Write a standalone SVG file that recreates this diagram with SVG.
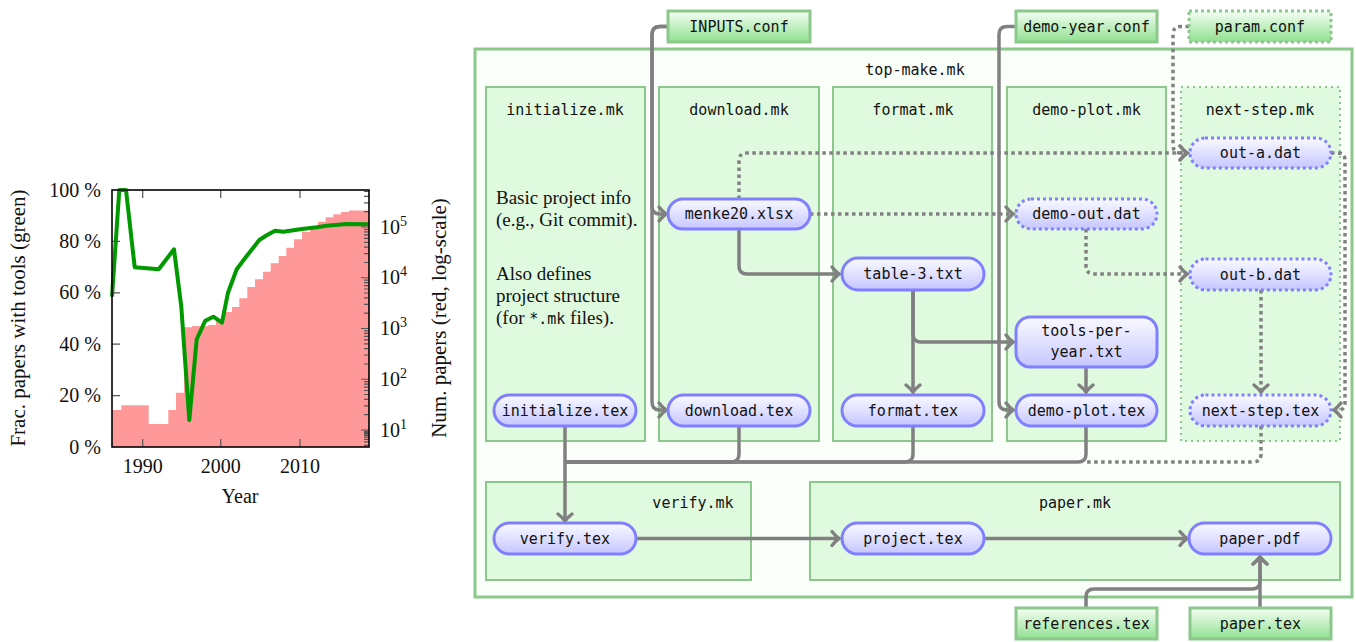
<svg xmlns="http://www.w3.org/2000/svg" width="1356" height="642" viewBox="0 0 1356 642">
<style>
.serif{font-family:"Liberation Serif","Times New Roman",serif;fill:#111}
.mono{font-family:"DejaVu Sans Mono","Liberation Mono",monospace;font-size:15px;fill:#111;text-anchor:middle}
.top{fill:#fafffa;stroke:#8cc88c;stroke-width:3}
.mk{fill:#e0fae0;stroke:#8cc88c;stroke-width:2}
.mkd{fill:#e0fae0;stroke:#8cc88c;stroke-width:2;stroke-dasharray:2 4}
.node{fill:url(#gb);stroke:#8080ff;stroke-width:3}
.noded{fill:url(#gb);stroke:#8080ff;stroke-width:3;stroke-dasharray:3 3}
.inp{fill:url(#gg);stroke:#8cc88c;stroke-width:3}
.inpd{fill:url(#gg);stroke:#8cc88c;stroke-width:3;stroke-dasharray:3 3}
.c{fill:none;stroke:#808080;stroke-width:3.5;marker-end:url(#ar)}
.cn{fill:none;stroke:#808080;stroke-width:3.5}
.d{stroke-dasharray:3.5 3.5}
.tk{stroke:#555;stroke-width:1.2}
</style>
<defs>
<linearGradient id="gb" x1="0" y1="0" x2="0" y2="1"><stop offset="0" stop-color="#fafaff"/><stop offset="1" stop-color="#c6c6ff"/></linearGradient>
<linearGradient id="gg" x1="0" y1="0" x2="0" y2="1"><stop offset="0" stop-color="#f6fff6"/><stop offset="1" stop-color="#8fe08f"/></linearGradient>
<marker id="ar" viewBox="-10 -10 12 20" refX="0" refY="0" markerWidth="12" markerHeight="20" markerUnits="userSpaceOnUse" orient="auto" overflow="visible"><path d="M-7,-7 Q-3,-2 0,0 Q-3,2 -7,7" fill="none" stroke="#808080" stroke-width="3.5" stroke-linecap="round"/></marker>
</defs>
<rect width="1356" height="642" fill="#fff"/>

<g id="plot">
<polygon fill="#ff9999" points="112,447 112,410 121.3,410 121.3,405.3 148.7,405.3 148.7,424 168.3,424 168.3,410 176,410 176,392.7 184,392.7 184,327.3 192,327.3 192,326 208,326 208,325 216,325 216,320 224,320 224,312 232,312 232,307 239.3,307 239.3,298.3 247.3,298.3 247.3,287 255,287 255,279.3 263,279.3 263,271.7 270.7,271.7 270.7,263.3 278.7,263.3 278.7,256 286.3,256 286.3,247.7 294,247.7 294,239.3 302,239.3 302,232 310,232 310,227 318,227 318,221.7 325.7,221.7 325.7,217.3 333.3,217.3 333.3,214.3 341,214.3 341,212 349,212 349,210.5 369,210.5 369,447"/>
<polyline fill="none" stroke="#009900" stroke-width="4" stroke-linejoin="round" points="112,296.7 119.3,190 126,190 134.7,267.3 158.7,269.3 174,249.3 181.3,306.7 189.3,420 196.7,339.3 205.3,320.7 213.3,316.7 222,322.7 228,292.7 236.7,269.3 246.7,256 259.3,240 266.7,235.3 275,230.7 283.3,231.7 300,229.3 316.7,227.3 326.7,225.7 346.7,224 369,224.3"/>
<g class="tk">
<path d="M112,395.6h8M112,344.2h8M112,292.8h8M112,241.4h8"/>
<path d="M142.7,447v-8M220.7,447v-8M300,447v-8M142.7,190v8M220.7,190v8M300,190v8"/>
<path d="M369,430h-8M369,379.25h-8M369,328.5h-8M369,277.75h-8M369,227h-8"/>
<path d="M369,445.3h-5M369,441.9h-5M369,439.3h-5M369,437.2h-5M369,435.4h-5M369,433.9h-5M369,432.6h-5M369,431.3h-5
M369,414.7h-5M369,405.8h-5M369,399.4h-5M369,394.5h-5M369,390.5h-5M369,387.1h-5M369,384.2h-5M369,381.6h-5
M369,364h-5M369,355h-5M369,348.7h-5M369,343.8h-5M369,339.8h-5M369,336.4h-5M369,333.4h-5M369,330.8h-5
M369,313.2h-5M369,304.3h-5M369,297.9h-5M369,293h-5M369,289h-5M369,285.6h-5M369,282.7h-5M369,280.1h-5
M369,262.5h-5M369,253.6h-5M369,247.2h-5M369,242.3h-5M369,238.3h-5M369,234.9h-5M369,231.9h-5M369,229.3h-5
M369,211.7h-5M369,202.8h-5M369,196.4h-5M369,191.5h-5"/>
</g>
<rect x="112" y="190" width="257" height="257" fill="none" stroke="#000" stroke-width="1.6"/>
<g class="serif" font-size="20" text-anchor="end">
<text x="101" y="453.5">0 %</text>
<text x="101" y="402.1">20 %</text>
<text x="101" y="350.7">40 %</text>
<text x="101" y="299.3">60 %</text>
<text x="101" y="247.9">80 %</text>
<text x="101" y="196.5">100 %</text>
</g>
<g class="serif" font-size="20" text-anchor="middle">
<text x="142.7" y="473">1990</text>
<text x="220.7" y="473">2000</text>
<text x="300" y="473">2010</text>
<text x="240" y="503">Year</text>
</g>
<g class="serif" font-size="20">
<text x="380" y="436.5">10<tspan font-size="14" dy="-8">1</tspan></text>
<text x="380" y="385.75">10<tspan font-size="14" dy="-8">2</tspan></text>
<text x="380" y="335">10<tspan font-size="14" dy="-8">3</tspan></text>
<text x="380" y="284.25">10<tspan font-size="14" dy="-8">4</tspan></text>
<text x="380" y="233.5">10<tspan font-size="14" dy="-8">5</tspan></text>
</g>
<text class="serif" font-size="21" text-anchor="middle" x="25" y="318" transform="rotate(-90 25 318)">Frac. papers with tools (green)</text>
<text class="serif" font-size="21" text-anchor="middle" x="446" y="318" transform="rotate(-90 446 318)">Num. papers (red, log-scale)</text>
</g>

<g id="top-make">
<rect class="top" x="475" y="49" width="877" height="548"/>
<text class="mono" x="915" y="75">top-make.mk</text>
</g>
<g id="initialize-mk">
<rect class="mk" x="486" y="87" width="159" height="354"/>
<text class="mono" x="565" y="115">initialize.mk</text>
<g class="serif" font-size="19">
<text x="496" y="204">Basic project info</text>
<text x="496" y="226">(e.g., Git commit).</text>
<text x="496" y="280">Also defines</text>
<text x="496" y="302">project structure</text>
<text x="496" y="324">(for <tspan font-family="DejaVu Sans Mono, monospace" font-size="15">*.mk</tspan> files).</text>
</g>
</g>
<g id="download-mk">
<rect class="mk" x="659" y="87" width="160" height="354"/>
<text class="mono" x="739" y="115">download.mk</text>
</g>
<g id="format-mk">
<rect class="mk" x="833" y="87" width="159" height="354"/>
<text class="mono" x="913" y="115">format.mk</text>
</g>
<g id="demo-plot-mk">
<rect class="mk" x="1007" y="87" width="159" height="354"/>
<text class="mono" x="1086.5" y="115">demo-plot.mk</text>
</g>
<g id="next-step-mk">
<rect class="mkd" x="1181" y="87" width="159" height="354"/>
<text class="mono" x="1260" y="115">next-step.mk</text>
</g>
<g id="verify-mk">
<rect class="mk" x="486" y="482" width="265" height="98"/>
<text class="mono" x="693" y="508">verify.mk</text>
</g>
<g id="paper-mk">
<rect class="mk" x="810" y="482" width="530" height="98"/>
<text class="mono" x="1075" y="508">paper.mk</text>
</g>

<g id="connectors">
<path class="c" d="M668,26.5H660Q652,26.5 652,34.5V206Q652,214 660,214H666"/>
<path class="c" d="M668,26.5H660Q652,26.5 652,34.5V402Q652,410 660,410H666"/>
<path class="c" d="M1016,26.5H1007Q999,26.5 999,34.5V402Q999,410 1007,410H1013"/>
<path class="c" d="M739,229V266Q739,274 747,274H839"/>
<path class="c d" d="M810,214H1013"/>
<path class="c d" d="M739,199V161Q739,153 747,153H1187"/>
<path class="c d" d="M1189,26.5H1181Q1173,26.5 1173,34.5V145Q1173,153 1181,153H1187"/>
<path class="c d" d="M1331,153H1338Q1345,153 1345,160V403Q1345,410 1338,410H1334"/>
<path class="c d" d="M1086,229V266Q1086,274 1094,274H1187"/>
<path class="c d" d="M1261,290V392"/>
<path class="c" d="M913,290V392"/>
<path class="c" d="M913,290V334Q913,342 921,342H1013"/>
<path class="c" d="M1086,367V392"/>
<path class="c" d="M565,426V521"/>
<path class="cn" d="M739,426V454Q739,462 731,462H565"/>
<path class="cn" d="M913,426V454Q913,462 905,462H565"/>
<path class="cn" d="M1086,426V454Q1086,462 1078,462H565"/>
<path class="cn d" d="M1261,426V454Q1261,462 1253,462H1086"/>
<path class="c" d="M636,538.5H839"/>
<path class="c" d="M984,538.5H1187"/>
<path class="c" d="M1260,608V557"/>
<path class="c" d="M1086,608V597Q1086,589 1094,589H1252Q1260,589 1260,581V557"/>
</g>

<g id="INPUTS-conf"><rect class="inp" x="668" y="11" width="142" height="31"/><text class="mono" x="739" y="31.5">INPUTS.conf</text></g>
<g id="demo-year-conf"><rect class="inp" x="1016" y="11" width="141" height="31"/><text class="mono" x="1086.5" y="31.5">demo-year.conf</text></g>
<g id="param-conf"><rect class="inpd" x="1189" y="11" width="142" height="31"/><text class="mono" x="1260" y="31.5">param.conf</text></g>
<g id="references-tex"><rect class="inp" x="1016" y="608" width="141" height="31"/><text class="mono" x="1086.5" y="628.5">references.tex</text></g>
<g id="paper-tex"><rect class="inp" x="1190" y="608" width="141" height="31"/><text class="mono" x="1260.5" y="628.5">paper.tex</text></g>

<g id="menke20-xlsx"><rect class="node" x="668" y="199" width="142" height="30" rx="15"/><text class="mono" x="739" y="219">menke20.xlsx</text></g>
<g id="table-3-txt"><rect class="node" x="842" y="258" width="142" height="32" rx="16"/><text class="mono" x="913" y="279">table-3.txt</text></g>
<g id="demo-out-dat"><rect class="noded" x="1016" y="199" width="141" height="30" rx="15"/><text class="mono" x="1086.5" y="219">demo-out.dat</text></g>
<g id="out-a-dat"><rect class="noded" x="1190" y="138" width="141" height="30" rx="15"/><text class="mono" x="1260.5" y="158">out-a.dat</text></g>
<g id="out-b-dat"><rect class="noded" x="1190" y="259" width="141" height="31" rx="15.5"/><text class="mono" x="1260.5" y="279.5">out-b.dat</text></g>
<g id="tools-per-year-txt"><rect class="node" x="1016" y="317" width="141" height="50" rx="14"/><text class="mono" x="1086.5" y="336">tools-per-</text><text class="mono" x="1086.5" y="357">year.txt</text></g>
<g id="initialize-tex"><rect class="node" x="494" y="395" width="142" height="31" rx="15.5"/><text class="mono" x="565" y="415.5">initialize.tex</text></g>
<g id="download-tex"><rect class="node" x="668" y="395" width="142" height="31" rx="15.5"/><text class="mono" x="739" y="415.5">download.tex</text></g>
<g id="format-tex"><rect class="node" x="842" y="395" width="142" height="31" rx="15.5"/><text class="mono" x="913" y="415.5">format.tex</text></g>
<g id="demo-plot-tex"><rect class="node" x="1016" y="395" width="141" height="31" rx="15.5"/><text class="mono" x="1086.5" y="415.5">demo-plot.tex</text></g>
<g id="next-step-tex"><rect class="noded" x="1190" y="395" width="141" height="31" rx="15.5"/><text class="mono" x="1260.5" y="415.5">next-step.tex</text></g>
<g id="verify-tex"><rect class="node" x="494" y="523" width="142" height="31" rx="15.5"/><text class="mono" x="565" y="543.5">verify.tex</text></g>
<g id="project-tex"><rect class="node" x="842" y="523" width="142" height="31" rx="15.5"/><text class="mono" x="913" y="543.5">project.tex</text></g>
<g id="paper-pdf"><rect class="node" x="1189" y="523" width="142" height="31" rx="15.5"/><text class="mono" x="1260" y="543.5">paper.pdf</text></g>
</svg>
